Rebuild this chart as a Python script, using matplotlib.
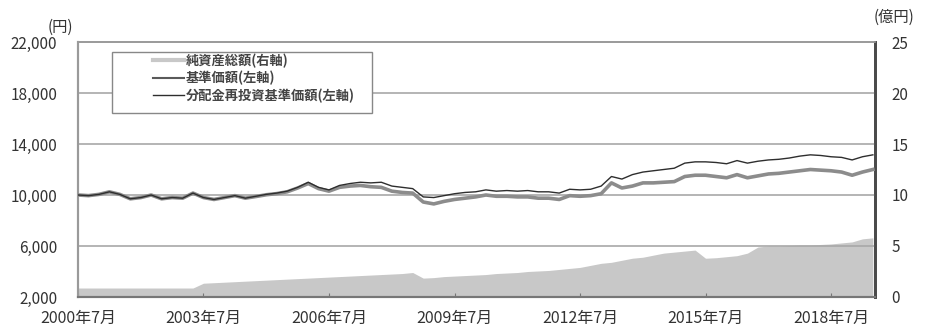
import numpy as np
import pandas as pd
import matplotlib
matplotlib.use("Agg")
import matplotlib.pyplot as plt
from matplotlib.lines import Line2D
from matplotlib.patches import Rectangle

plt.rcParams['font.family'] = ['Noto Sans CJK JP', 'DejaVu Sans']

# --------------------
# Data (quarterly, 2000/7 - 2019/7)
# --------------------
dates = pd.date_range("2000-07-01", "2019-07-01", freq="3MS")

# 分配金再投資基準価額 (円)
reinvested = [
    10000, 9950, 10050, 10250, 10050, 9700, 9800, 10000, 9700, 9800,
    9750, 10150, 9800, 9650, 9800, 9950, 9750, 9900, 10050, 10150,
    10300, 10600, 11000, 10600, 10400, 10750, 10900, 11000, 10950, 11000,
    10700, 10600, 10500, 9850, 9800, 9950, 10100, 10200, 10250, 10400,
    10300, 10350, 10300, 10350, 10250, 10250, 10150, 10450, 10400, 10450,
    10700, 11450, 11250, 11600, 11800, 11900, 12000, 12100, 12500, 12600,
    12600, 12550, 12450, 12700, 12500, 12650, 12750, 12800, 12900, 13050,
    13150, 13100, 13000, 12950, 12750, 13000, 13150,
]

# 基準価額 (円)
nav = [
    10000, 9950, 10050, 10250, 10050, 9700, 9800, 10000, 9700, 9800,
    9750, 10150, 9800, 9650, 9800, 9950, 9750, 9880, 10020, 10110,
    10250, 10550, 10900, 10500, 10300, 10600, 10700, 10750, 10650, 10600,
    10300, 10200, 10150, 9450, 9300, 9500, 9650, 9750, 9850, 10000,
    9900, 9900, 9850, 9850, 9750, 9750, 9650, 9950, 9900, 9950,
    10100, 10950, 10550, 10700, 10950, 10950, 11000, 11050, 11450, 11550,
    11550, 11450, 11350, 11600, 11350, 11500, 11650, 11700, 11800, 11900,
    12000, 11950, 11900, 11800, 11550, 11800, 12000,
]

# 純資産総額 (億円)
net_assets = [
    0.88, 0.88, 0.88, 0.88, 0.88, 0.88, 0.88, 0.88, 0.88, 0.88,
    0.88, 0.88, 1.35, 1.40, 1.45, 1.50, 1.55, 1.60, 1.65, 1.70,
    1.75, 1.80, 1.85, 1.90, 1.95, 2.00, 2.05, 2.10, 2.15, 2.20,
    2.25, 2.30, 2.40, 1.85, 1.90, 2.00, 2.05, 2.10, 2.15, 2.20,
    2.30, 2.35, 2.40, 2.50, 2.55, 2.60, 2.70, 2.80, 2.90, 3.10,
    3.30, 3.40, 3.60, 3.80, 3.90, 4.10, 4.30, 4.40, 4.50, 4.60,
    3.80, 3.85, 3.95, 4.05, 4.30, 4.90, 5.00, 5.00, 5.05, 5.10,
    5.10, 5.15, 5.20, 5.30, 5.40, 5.70, 5.80,
]

tick_dates = pd.to_datetime(["2000-07-01", "2003-07-01", "2006-07-01", "2009-07-01",
                             "2012-07-01", "2015-07-01", "2018-07-01"])
tick_labels = ["2000年7月", "2003年7月", "2006年7月", "2009年7月",
               "2012年7月", "2015年7月", "2018年7月"]
left_ticks = [2000, 6000, 10000, 14000, 18000, 22000]
right_ticks = [0, 5, 10, 15, 20, 25]

# --------------------
# Figure
# --------------------
fig = plt.figure(figsize=(9.25, 3.29), dpi=100)
ax = fig.add_axes([0.0843, 0.0973, 0.8617, 0.775])
ax2 = ax.twinx()

# net assets area on the right axis, drawn behind the price lines
ax2.fill_between(dates, net_assets, 0, color="#c8c8c8", linewidth=0)
ax2.set_ylim(0, 25)
ax2.set_yticks(right_ticks)

ax.set_zorder(ax2.get_zorder() + 1)
ax.patch.set_visible(False)

for v in left_ticks[1:-1]:
    ax.axhline(v, color="#a8a8a8", linewidth=1.2, zorder=1)

ax.plot(dates, nav, color="#8c8c8c", linewidth=2.6, zorder=3)
ax.plot(dates, reinvested, color="#2e2e2e", linewidth=1.0, zorder=4)

ax.set_ylim(2000, 22000)
ax.set_yticks(left_ticks)
ax.set_yticklabels([f"{v:,}" for v in left_ticks])
ax.set_xlim(dates[0], pd.Timestamp("2019-07-20"))
ax.set_xticks(tick_dates)
ax.set_xticklabels(tick_labels)

for a in (ax, ax2):
    a.tick_params(axis="both", labelsize=11, labelcolor="#333333", colors="#777777")
ax.tick_params(axis="y", length=0, pad=15)
ax.tick_params(axis="x", direction="in", length=3, pad=9, labelsize=11.5)
ax2.tick_params(axis="y", length=0, pad=12)

for a in (ax, ax2):
    a.spines["top"].set_color("#9a9a9a")
    a.spines["top"].set_linewidth(1.2)
    a.spines["left"].set_color("#9a9a9a")
    a.spines["left"].set_linewidth(1.5)
    a.spines["bottom"].set_color("#777777")
    a.spines["bottom"].set_linewidth(1.5)
    a.spines["right"].set_color("#4a4a4a")
    a.spines["right"].set_linewidth(2.0)

fig.text(0.052, 0.918, "(円)", fontsize=11, color="#333333", va="center")
fig.text(0.944, 0.948, "(億円)", fontsize=11, color="#333333", va="center")

# legend box drawn separately so the handles sit well inside the frame
ax.add_patch(Rectangle((0.0427, 0.722), 0.326, 0.239, transform=ax.transAxes,
                       facecolor="white", edgecolor="#888888", linewidth=1.0,
                       zorder=8))

handles = [
    Line2D([], [], color="#c8c8c8", linewidth=3),
    Line2D([], [], color="#5a5a5a", linewidth=1.5),
    Line2D([], [], color="#2e2e2e", linewidth=1.0),
]
labels = ["純資産総額(右軸)", "基準価額(左軸)", "分配金再投資基準価額(左軸)"]
leg = ax.legend(handles, labels, loc="upper left", bbox_to_anchor=(0.088, 0.975),
                prop={"size": 9.5, "weight": "bold"}, frameon=False,
                handlelength=2.3, handletextpad=0.15,
                borderpad=0.4, labelspacing=0.22, borderaxespad=0)
leg.set_zorder(10)
for t in leg.get_texts():
    t.set_color("#444444")

fig.savefig("out.png", dpi=100, facecolor="white")
